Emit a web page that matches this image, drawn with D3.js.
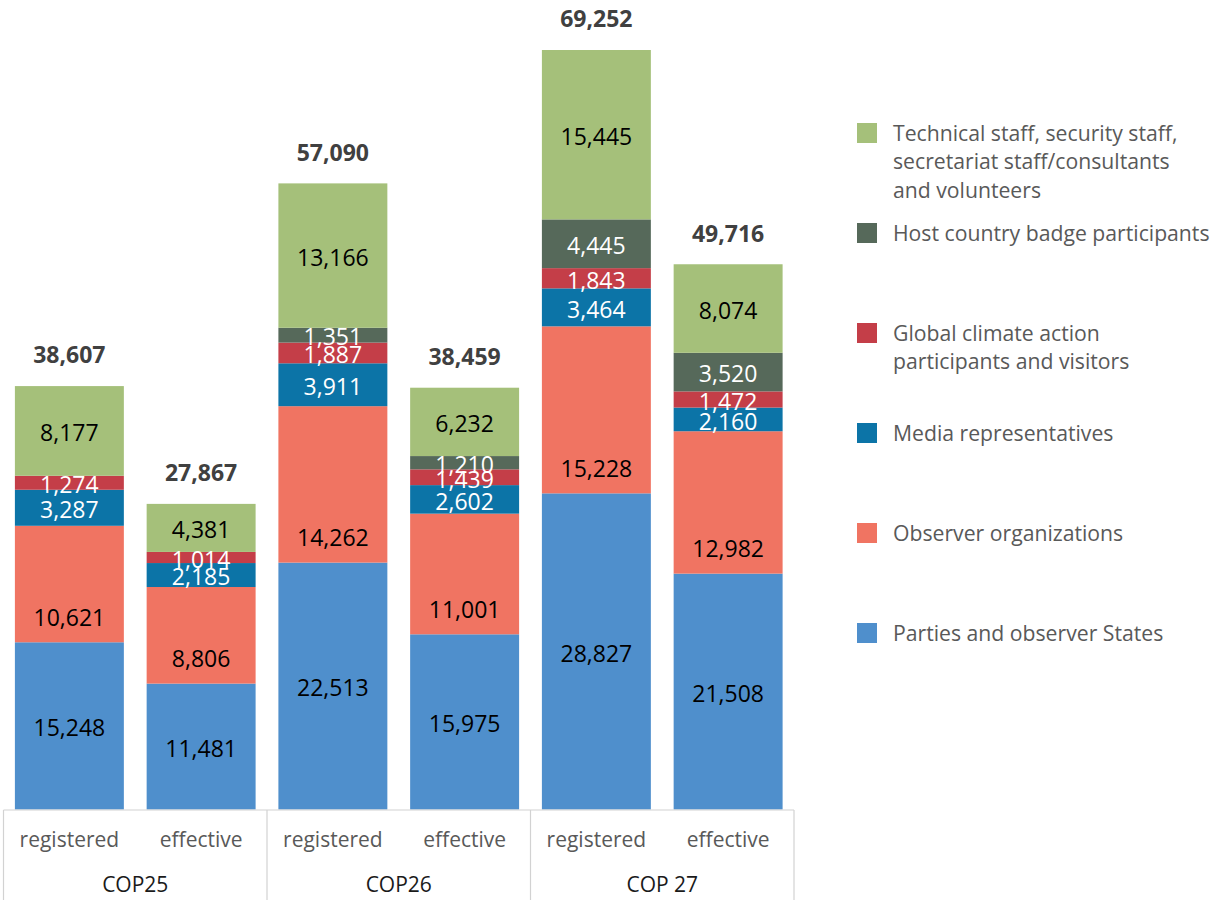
<!DOCTYPE html>
<html>
<head>
<meta charset="utf-8">
<script src="https://cdn.jsdelivr.net/npm/d3@7"></script>
<style>
html,body{margin:0;padding:0;background:#fff;}
svg{display:block;}
</style>
</head>
<body>
<svg id="chart" width="1212" height="900"></svg>
<script>
// ---- data ----
const groups = ["COP25", "COP26", "COP 27"];
const subLabels = ["registered", "effective"];
const barIds = ["COP25-registered","COP25-effective","COP26-registered","COP26-effective","COP27-registered","COP27-effective"];
const parties    = [15248, 11481, 22513, 15975, 28827, 21508];
const observers  = [10621,  8806, 14262, 11001, 15228, 12982];
const media      = [ 3287,  2185,  3911,  2602,  3464,  2160];
const globalAct  = [ 1274,  1014,  1887,  1439,  1843,  1472];
const hostBadge  = [    0,     0,  1351,  1210,  4445,  3520];
const technical  = [ 8177,  4381, 13166,  6232, 15445,  8074];
const totals     = [38607, 27867, 57090, 38459, 69252, 49716];
const seriesNames = [
  "Parties and observer States",
  "Observer organizations",
  "Media representatives",
  "Global climate action participants and visitors",
  "Host country badge participants",
  "Technical staff, security staff, secretariat staff/consultants and volunteers"
];
const legendLines = [
  ["Parties and observer States"],
  ["Observer organizations"],
  ["Media representatives"],
  ["Global climate action", "participants and visitors"],
  ["Host country badge participants"],
  ["Technical staff, security staff,", "secretariat staff/consultants", "and volunteers"]
];
const seriesValues = [parties, observers, media, globalAct, hostBadge, technical];
const colors = ["#4f8fcc", "#f07462", "#0c74a7", "#c43e48", "#56695a", "#a5c07a"];
const labelColors = ["#000", "#000", "#fff", "#fff", "#fff", "#000"];
// label placement per series: "center" or "base" (inside base of the segment)
const labelPlacement = ["center", "base", "center", "center", "center", "center"];

// ---- layout ----
const svg = d3.select("#chart");
const font = "'Open Sans', 'Noto Sans', sans-serif";
const x0 = 3.5, x1 = 794, baseY = 809.5;

const x = d3.scaleBand().domain(barIds).range([x0, x1]).paddingInner(0.173).paddingOuter(0.0865);
const y = d3.scaleLinear().domain([0, 70000]).range([baseY, baseY - 70000 * (759.5 / 69252)]);

const rows = barIds.map((id, i) => {
  const r = {id};
  seriesNames.forEach((s, k) => r[s] = seriesValues[k][i]);
  return r;
});
const stack = d3.stack().keys(seriesNames)(rows);

const gBars = svg.append("g");
stack.forEach((layer, k) => {
  const g = gBars.append("g").attr("fill", colors[k]);
  g.selectAll("rect").data(layer).join("rect")
    .attr("x", d => x(d.data.id))
    .attr("width", x.bandwidth())
    .attr("y", d => y(d[1]))
    .attr("height", d => y(d[0]) - y(d[1]));
});
// value labels
stack.forEach((layer, k) => {
  gBars.append("g").selectAll("text").data(layer.filter(d => d[1] - d[0] > 0)).join("text")
    .attr("x", d => x(d.data.id) + x.bandwidth() / 2)
    .attr("y", d => labelPlacement[k] === "base" ? y(d[0]) - 25 : (y(d[0]) + y(d[1])) / 2 + 2)
    .attr("dy", "0.36em")
    .attr("text-anchor", "middle")
    .attr("font-family", font)
    .attr("font-size", 23)
    .attr("fill", labelColors[k])
    .text(d => d3.format(",")(d[1] - d[0]));
});
// totals
svg.append("g").selectAll("text").data(barIds).join("text")
  .attr("x", d => x(d) + x.bandwidth() / 2)
  .attr("y", (d, i) => y(totals[i]) - 31)
  .attr("dy", "0.36em")
  .attr("text-anchor", "middle")
  .attr("font-family", font)
  .attr("font-weight", "bold")
  .attr("font-size", 23)
  .attr("fill", "#404040")
  .text((d, i) => d3.format(",")(totals[i]));

// axis
const axis = svg.append("g").attr("stroke", "#d2d2d2").attr("stroke-width", 1.2).attr("fill", "none");
axis.append("line").attr("x1", x0).attr("x2", x1).attr("y1", baseY + 0.5).attr("y2", baseY + 0.5);
const groupScale = d3.scaleBand().domain(groups).range([x0, x1]);
const seps = [x0].concat(groups.map(g => groupScale(g) + groupScale.bandwidth()));
axis.selectAll("line.sep").data(seps).join("line").attr("class", "sep")
  .attr("x1", d => d).attr("x2", d => d).attr("y1", baseY + 0.5).attr("y2", 900);

svg.append("g").selectAll("text").data(barIds).join("text")
  .attr("x", d => x(d) + x.bandwidth() / 2)
  .attr("y", 839)
  .attr("dy", "0.36em")
  .attr("text-anchor", "middle")
  .attr("font-family", font)
  .attr("font-size", 21)
  .attr("fill", "#595959")
  .text((d, i) => subLabels[i % 2]);
svg.append("g").selectAll("text").data(groups).join("text")
  .attr("x", d => groupScale(d) + groupScale.bandwidth() / 2)
  .attr("y", 884)
  .attr("dy", "0.36em")
  .attr("text-anchor", "middle")
  .attr("font-family", font)
  .attr("font-size", 21)
  .attr("fill", "#1a1a1a")
  .text(d => d);

// legend
const legendOrder = [5, 4, 3, 2, 1, 0];
const lg = svg.append("g");
legendOrder.forEach((k, i) => {
  const cy = 133 + 100 * i;
  lg.append("rect").attr("x", 857).attr("y", cy - 10).attr("width", 20).attr("height", 20).attr("fill", colors[k]);
  const t = lg.append("text").attr("x", 893).attr("y", cy)
    .attr("font-family", font).attr("font-size", 21.2).attr("fill", "#595959");
  legendLines[k].forEach((line, j) => {
    t.append("tspan").attr("x", 893).attr("dy", j === 0 ? "0.36em" : 28.5).text(line);
  });
});
</script>
</body>
</html>
